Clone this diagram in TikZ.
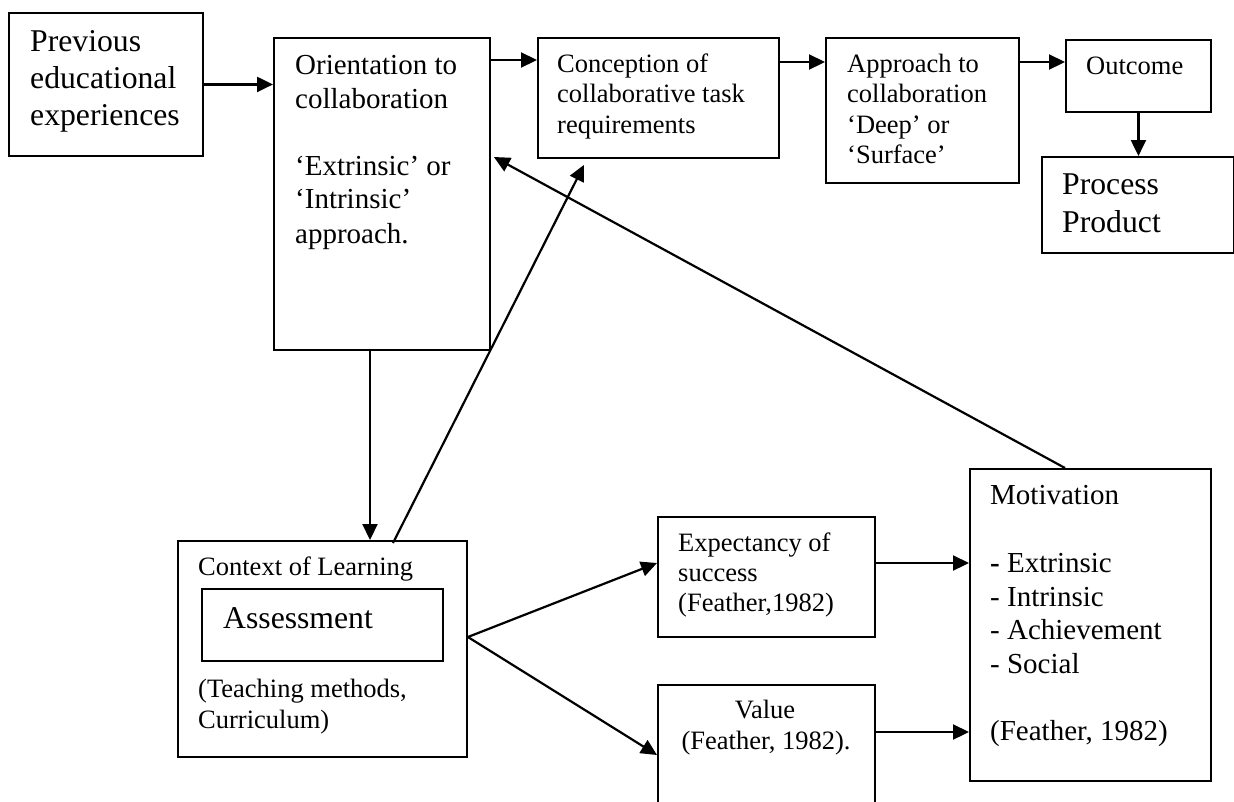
\documentclass[tikz,border=0pt]{standalone}
\usepackage{fontspec}
\setmainfont{Liberation Serif}
\usetikzlibrary{arrows.meta,calc}
\newcommand\fbig{\fontsize{31.7}{38}\selectfont}
\newcommand\fmid{\fontsize{29}{34}\selectfont}
\newcommand\fsml{\fontsize{26.5}{30}\selectfont}
\begin{document}
\begin{tikzpicture}[x=1pt,y=-1pt,
  box/.style={draw, line width=1.9pt, inner sep=0pt, anchor=north west},
  txt/.style={anchor=base west, inner sep=0pt},
  ctxt/.style={anchor=base, inner sep=0pt},
  arr/.style={line width=2.2pt, -{Triangle[length=16pt,width=15pt]}}]
\useasboundingbox (0,0) rectangle (1234,801);
\clip (0,0) rectangle (1234,801);
% boxes
\node[box, minimum width=194pt, minimum height=143pt] (prev) at (8,12) {};
\node[box, minimum width=216pt, minimum height=312pt] (orient) at (273,37) {};
\node[box, minimum width=241pt, minimum height=120pt] (concept) at (537,37) {};
\node[box, minimum width=193pt, minimum height=145pt] (approach) at (825,37) {};
\node[box, minimum width=145pt, minimum height=72pt] (outcome) at (1065,39) {};
\node[box, minimum width=192pt, minimum height=96pt] (process) at (1041,156) {};
\node[box, minimum width=289pt, minimum height=216pt] (context) at (177,540) {};
\node[box, minimum width=241pt, minimum height=72pt] (assess) at (201,588) {};
\node[box, minimum width=217pt, minimum height=120pt] (expect) at (657,516) {};
\node[box, minimum width=217pt, minimum height=160pt] (value) at (657,684) {};
\node[box, minimum width=241pt, minimum height=312pt] (motiv) at (969,468) {};
% texts
\node[txt, font=\fbig] (p1) at (30,51) {Previous};
\node[txt, font=\fbig] (p2) at (30,88) {educational};
\node[txt, font=\fbig] (p3) at (30,125) {experiences};
\node[txt, font=\fmid] (o1) at (295,74) {Orientation to};
\node[txt, font=\fmid] (o2) at (295,108) {collaboration};
\node[txt, font=\fmid] (o3) at (295,175) {‘Extrinsic’ or};
\node[txt, font=\fmid] (o4) at (295,208) {‘Intrinsic’};
\node[txt, font=\fmid] (o5) at (295,243) {approach.};
\node[txt, font=\fsml] (c1) at (557,72) {Conception of};
\node[txt, font=\fsml] (c2) at (557,102) {collaborative task};
\node[txt, font=\fsml] (c3) at (557,133) {requirements};
\node[txt, font=\fsml] (a1) at (847,72) {Approach to};
\node[txt, font=\fsml] (a2) at (847,102) {collaboration};
\node[txt, font=\fsml] (a3) at (847,133) {‘Deep’ or};
\node[txt, font=\fsml] (a4) at (847,163) {‘Surface’};
\node[txt, font=\fsml] (out1) at (1086,74) {Outcome};
\node[txt, font=\fbig] (pp1) at (1062,194) {Process};
\node[txt, font=\fbig] (pp2) at (1062,232) {Product};
\node[txt, font=\fsml] (cx1) at (198,575) {Context of Learning};
\node[txt, font=\fbig] (as1) at (223,628) {Assessment};
\node[txt, font=\fsml] (cx2) at (198,697) {(Teaching methods,};
\node[txt, font=\fsml] (cx3) at (198,728) {Curriculum)};
\node[txt, font=\fsml] (e1) at (678,551) {Expectancy of};
\node[txt, font=\fsml] (e2) at (678,581) {success};
\node[txt, font=\fsml] (e3) at (678,611) {(Feather,1982)};
\node[ctxt, font=\fsml] (v1) at (765,718) {Value};
\node[ctxt, font=\fsml] (v2) at (766,749) {(Feather, 1982).};
\node[txt, font=\fmid] (m1) at (990,504) {Motivation};
\node[txt, font=\fmid] (m2) at (990,572) {\textbf{-} Extrinsic};
\node[txt, font=\fmid] (m3) at (990,606) {- Intrinsic};
\node[txt, font=\fmid] (m4) at (990,639) {- Achievement};
\node[txt, font=\fmid] (m5) at (990,673) {- Social};
\node[txt, font=\fmid] (m6) at (990,740) {(Feather, 1982)};
% connectors
\draw[arr] (prev.east) -- (prev.east -| orient.west);
\draw[arr] ($(orient.north east)+(0,23)$) -- ($(concept.north west)+(0,23)$);
\draw[arr] ($(concept.north east)+(0,25)$) -- ($(approach.north west)+(0,25)$);
\draw[arr] ($(approach.north east)+(0,25)$) -- ($(outcome.north west)+(0,23)$);
\draw[arr] (outcome.south) -- (outcome.south |- process.north);
\draw[arr] ($(orient.south west)+(97,0)$) -- ($(context.north west)+(193,0)$);
\draw[arr] ($(context.north west)+(216,3)$) -- ($(concept.south west)+(47,6)$);
\draw[arr] ($(motiv.north west)+(96,0)$) -- ($(orient.north east)+(3,120)$);
\draw[arr] ($(context.north east)+(0,97)$) -- ($(expect.north west)+(0,47)$);
\draw[arr] ($(context.north east)+(0,97)$) -- ($(value.north west)+(0,71)$);
\draw[arr] ($(expect.north east)+(0,47)$) -- ($(motiv.north west)+(0,95)$);
\draw[arr] ($(value.north east)+(0,48)$) -- ($(motiv.north west)+(0,264)$);
\end{tikzpicture}
\end{document}
